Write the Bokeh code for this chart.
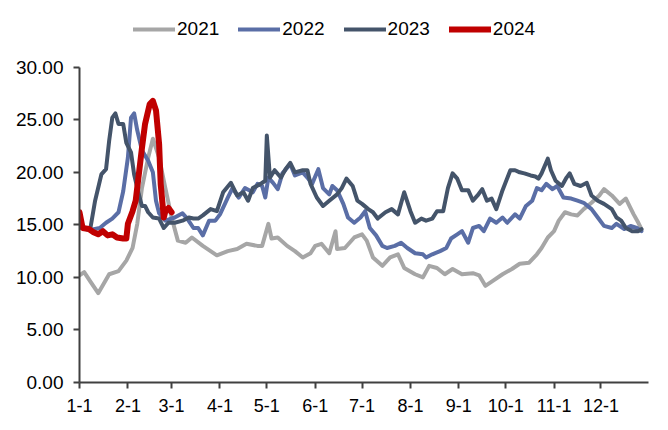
from bokeh.plotting import figure
from bokeh.models import FixedTicker, Legend, LegendItem, ColumnDataSource, Range1d
from bokeh.embed import file_html
from bokeh.resources import INLINE

# day-of-year (0 = Jan 1) and values
days_2021 = [0, 3, 7, 12, 19, 25, 30, 34, 37, 40, 44, 47, 51, 55, 59, 63, 68, 72, 79, 88, 95, 101, 107,
             114, 117, 121, 123, 127, 133, 138, 143, 148, 151, 155, 160, 164, 165, 170, 176, 181, 184,
             188, 194, 199, 204, 208, 215, 220, 224, 229, 234, 239, 245, 252, 256, 260, 265, 271, 277,
             282, 288, 293, 296, 300, 304, 307, 311, 315, 319, 323, 328, 333, 336, 341, 346, 350, 353,
             355, 358, 360]
vals_2021 = [10.2, 10.5, 9.6, 8.5, 10.3, 10.6, 11.6, 12.8, 15.1, 18.5, 21.4, 23.2, 21.4, 18.5, 15.7, 13.5,
             13.3, 13.8, 13.0, 12.1, 12.5, 12.7, 13.2, 13.0, 13.0, 15.1, 13.7, 13.8, 13.0, 12.5, 11.9,
             12.3, 13.0, 13.2, 12.3, 14.4, 12.7, 12.8, 13.8, 14.1, 13.5, 11.9, 11.1, 11.9, 12.2, 10.9,
             10.3, 10.0, 11.1, 10.9, 10.3, 10.8, 10.3, 10.4, 10.2, 9.2, 9.7, 10.3, 10.8, 11.3, 11.4,
             12.2, 12.8, 13.8, 14.4, 15.4, 16.2, 16.0, 15.9, 16.5, 17.1, 17.8, 18.4, 17.8, 17.0, 17.5,
             16.6, 16.0, 15.2, 14.6]

days_2022 = [0, 6, 13, 17, 21, 25, 28, 31, 33, 35, 37, 40, 44, 47, 49, 51, 55, 61, 66, 69, 73, 76, 79,
             83, 87, 90, 95, 98, 102, 106, 111, 114, 117, 119, 121, 124, 127, 130, 135, 138, 143, 146,
             149, 153, 156, 160, 162, 165, 169, 172, 176, 180, 183, 186, 190, 194, 197, 202, 206, 210,
             215, 220, 222, 226, 231, 235, 238, 242, 245, 249, 252, 256, 259, 263, 267, 271, 274, 279,
             282, 286, 290, 293, 296, 299, 303, 306, 310, 315, 319, 323, 328, 332, 336, 341, 344, 349,
             353, 357, 360]
vals_2022 = [14.8, 14.5, 14.7, 15.2, 15.6, 16.2, 18.2, 21.4, 25.2, 25.6, 24.0, 22.1, 21.1, 20.0, 17.3,
             16.1, 15.4, 15.7, 16.1, 15.6, 14.7, 14.7, 14.0, 15.4, 15.4, 16.0, 17.6, 18.5, 17.6, 18.5,
             18.1, 18.9, 18.7, 17.6, 19.5, 19.0, 18.4, 19.9, 20.8, 19.7, 20.0, 19.5, 18.9, 20.3, 18.5,
             17.9, 18.7, 18.3, 17.0, 15.7, 15.2, 15.7, 16.3, 14.7, 14.0, 13.0, 12.8, 13.0, 13.3, 12.8,
             12.3, 12.2, 11.9, 12.2, 12.5, 12.8, 13.7, 14.1, 14.4, 13.3, 14.7, 14.9, 14.4, 15.6, 15.2,
             15.7, 15.2, 16.0, 15.6, 16.8, 17.3, 18.5, 18.3, 18.9, 18.4, 18.7, 17.6, 17.5, 17.3, 17.1,
             16.5, 15.7, 14.9, 14.7, 15.1, 14.6, 14.9, 14.7, 14.4]

days_2023 = [0, 5, 7, 10, 14, 17, 19, 21, 23, 25, 28, 30, 33, 35, 38, 40, 42, 44, 47, 51, 54, 57, 61,
             66, 70, 73, 76, 79, 84, 88, 92, 97, 101, 105, 108, 111, 116, 119, 120, 122, 125, 129, 132,
             135, 138, 143, 146, 148, 152, 156, 160, 165, 168, 171, 175, 178, 181, 185, 188, 191, 196,
             200, 204, 208, 212, 215, 219, 222, 226, 229, 233, 236, 239, 242, 245, 249, 252, 255, 258,
             261, 264, 267, 271, 276, 279, 282, 285, 289, 292, 294, 296, 300, 302, 305, 309, 312, 314,
             317, 321, 325, 328, 332, 336, 341, 344, 347, 350, 354, 358, 360]
vals_2023 = [15.0, 14.6, 14.7, 17.3, 19.8, 20.3, 23.0, 25.2, 25.6, 24.6, 24.6, 22.8, 21.9, 19.8, 17.9,
             16.8, 16.8, 16.2, 15.7, 15.6, 14.7, 15.2, 15.2, 15.4, 15.7, 15.6, 15.6, 15.9, 16.5, 16.3,
             18.1, 19.0, 17.8, 18.1, 17.3, 18.5, 18.9, 19.2, 23.5, 19.5, 20.2, 19.5, 20.3, 20.9, 20.0,
             20.2, 20.2, 18.9, 17.6, 16.8, 17.3, 17.9, 18.5, 19.4, 18.7, 17.3, 17.0, 16.5, 16.2, 15.6,
             16.2, 16.5, 16.0, 18.1, 16.3, 15.2, 15.6, 15.4, 15.6, 16.3, 16.3, 18.5, 19.9, 19.4, 18.3,
             18.3, 17.3, 17.8, 18.4, 17.3, 17.5, 16.5, 18.3, 20.2, 20.2, 20.0, 19.9, 19.7, 19.6, 19.4,
             19.9, 21.3, 20.2, 19.2, 18.7, 19.5, 19.9, 18.9, 18.7, 19.0, 17.8, 17.3, 17.0, 16.5, 15.7,
             15.4, 14.7, 14.4, 14.4, 14.6]

days_2024 = [0, 2, 6, 9, 12, 15, 18, 21, 24, 28, 30, 31, 34, 36, 38, 40, 42, 45, 47, 49, 51, 52, 54,
             55, 57, 59]
vals_2024 = [16.2, 14.7, 14.6, 14.3, 14.1, 14.4, 14.0, 14.1, 13.8, 13.7, 13.7, 15.1, 16.3, 17.3, 19.8,
             22.3, 24.6, 26.5, 26.8, 25.9, 22.7, 18.9, 15.7, 16.3, 16.6, 16.2]

tick_days = [0, 31, 59, 90, 120, 151, 181, 212, 243, 273, 304, 334]
tick_labels = ["1-1", "2-1", "3-1", "4-1", "5-1", "6-1", "7-1", "8-1", "9-1", "10-1", "11-1", "12-1"]
y_ticks = [0, 5, 10, 15, 20, 25, 30]

FONT = "Liberation Sans"
AXIS_COLOR = "#404040"

# frame reaches the top of the canvas so the legend is not clipped;
# the y axis itself is bounded to 0..30
p = figure(width=668, height=430, output_backend="svg", toolbar_location=None,
           x_range=Range1d(0, 364.5), y_range=Range1d(0, 36.35),
           min_border_left=79, min_border_right=20, min_border_top=0, min_border_bottom=48)
p.outline_line_color = None
p.xgrid.visible = False
p.ygrid.visible = False
p.background_fill_color = "white"
p.border_fill_color = "white"

series = [
    ("2021", days_2021, vals_2021, "#A6A6A6", 4),
    ("2022", days_2022, vals_2022, "#5A6EA6", 4),
    ("2023", days_2023, vals_2023, "#44546A", 4),
    ("2024", days_2024, vals_2024, "#C00000", 6),
]
items = []
for name, d, v, c, w in series:
    src = ColumnDataSource(dict(x=d, y=v))
    r = p.line("x", "y", source=src, line_color=c, line_width=w, line_join="round", line_cap="round")
    items.append(LegendItem(label=name, renderers=[r]))

legend = Legend(items=items, orientation="horizontal", location=(54, 342),
                glyph_width=42, glyph_height=20, label_standoff=2, spacing=19,
                padding=0, margin=0, border_line_color=None, background_fill_alpha=0,
                label_text_font=FONT, label_text_font_size="19px", label_text_color="black")
p.add_layout(legend, "center")

p.xaxis.ticker = FixedTicker(ticks=tick_days)
p.xaxis.major_label_overrides = {d: l for d, l in zip(tick_days, tick_labels)}
p.yaxis.ticker = FixedTicker(ticks=y_ticks)
p.yaxis.major_label_overrides = {t: f"{t:.2f}" for t in y_ticks}
p.yaxis.bounds = (0, 30)

for ax in (p.xaxis[0], p.yaxis[0]):
    ax.axis_line_color = AXIS_COLOR
    ax.axis_line_width = 2
    ax.major_tick_line_color = AXIS_COLOR
    ax.major_tick_line_width = 2
    ax.major_tick_out = 6
    ax.major_tick_in = 0
    ax.minor_tick_line_color = None
    ax.major_label_text_font = FONT
    ax.major_label_text_color = "black"

p.xaxis.major_label_text_font_size = "18px"
p.xaxis.major_label_standoff = 10
p.yaxis.major_label_text_font_size = "19px"
p.yaxis.major_label_standoff = 10

open("out.html", "w").write(file_html(p, INLINE))
